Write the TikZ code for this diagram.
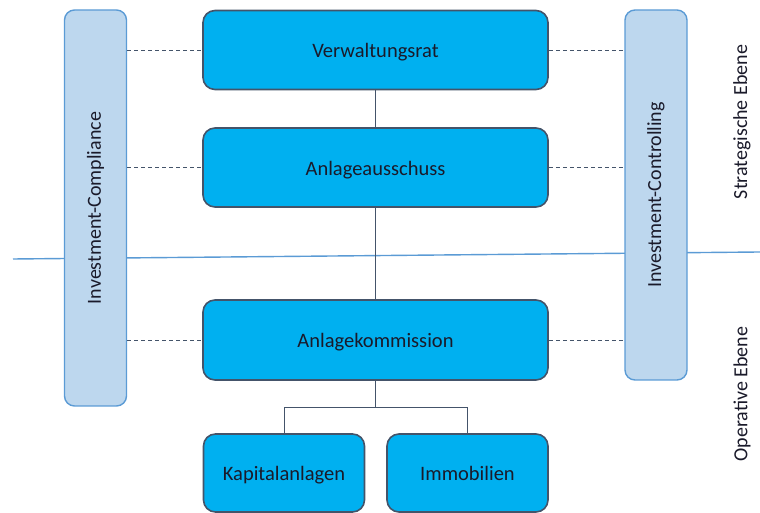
\documentclass[tikz,border=0pt]{standalone}
\usepackage{fontspec}
\setmainfont{Carlito}
\usepackage{tikz}
\usetikzlibrary{positioning,calc}
\definecolor{OrgCyan}{HTML}{00B0F0}
\definecolor{OrgSlate}{HTML}{44546A}
\definecolor{OrgLightBlue}{HTML}{BDD7EE}
\definecolor{OrgBlue}{HTML}{5B9BD5}
\definecolor{OrgText}{HTML}{1A1A2A}
\tikzset{
  orgbox/.style={
    rounded corners=12pt,
    draw=OrgSlate,
    fill=OrgCyan,
    line width=1.6pt,
    minimum width=345pt,
    minimum height=79pt,
    align=center,
    text=OrgText,
    text height=16pt,
    text depth=0pt,
    font=\fontsize{20.5}{24}\selectfont,
    inner sep=0pt
  },
  smallbox/.style={orgbox,minimum width=161pt,minimum height=78pt},
  sidebar/.style={
    rounded corners=10pt,
    draw=OrgBlue,
    fill=OrgLightBlue,
    line width=1.4pt,
    minimum width=62pt,
    inner sep=0pt
  },
  barlabel/.style={rotate=90,text=OrgText,font=\fontsize{20}{24}\selectfont},
  link/.style={draw=OrgSlate,line width=.8pt},
  dashlink/.style={draw=OrgSlate,line width=.9pt,dashed,dash pattern=on 4pt off 3pt}
}

\begin{document}
\begin{tikzpicture}[x=1pt,y=1pt]
  \useasboundingbox (0,0) rectangle (760,513);

  % Level divider between strategic and operative level.
  \draw[OrgBlue,line width=1.4pt] (13,254) -- (760,261);

  % Side functions.
  \node[sidebar,minimum height=396pt] (compliance) at (95.5,305) {};
  \node[barlabel] at (compliance.center) {Investment-Compliance};
  \node[sidebar,minimum height=370pt] (controlling) at (656,318) {};
  \node[barlabel] at (controlling.center) {Investment-Controlling};

  % Bodies of the organisation.
  \node[orgbox] (rat) at (375.5,463) {Verwaltungsrat};
  \node[orgbox] (ausschuss) at (375.5,345.5) {Anlageausschuss};
  \node[orgbox,minimum height=80pt] (kommission) at (375.5,173) {Anlagekommission};
  \node[smallbox] (kapital) at (284,40) {Kapitalanlagen};
  \node[smallbox] (immo) at (467.5,40) {Immobilien};

  % Level labels on the right.
  \node[barlabel] (strat) at (742,391) {Strategische Ebene};
  \node[barlabel] (oper) at (742,119) {Operative Ebene};

  % Hierarchy.
  \draw[link] (rat.south) -- (ausschuss.north);
  \draw[link] (ausschuss.south) -- (kommission.north);
  \coordinate (split) at ($(kommission.south)+(0,-27)$);
  \draw[link] (kommission.south) -- (split);
  \draw[link] (split) -| (kapital.north);
  \draw[link] (split) -| (immo.north);

  % Dashed links to the side functions.
  \foreach \n in {rat,ausschuss,kommission}{
    \draw[dashlink] (compliance.east |- \n.west) -- (\n.west);
    \draw[dashlink] (\n.east) -- (controlling.west |- \n.east);
  }
\end{tikzpicture}
\end{document}
